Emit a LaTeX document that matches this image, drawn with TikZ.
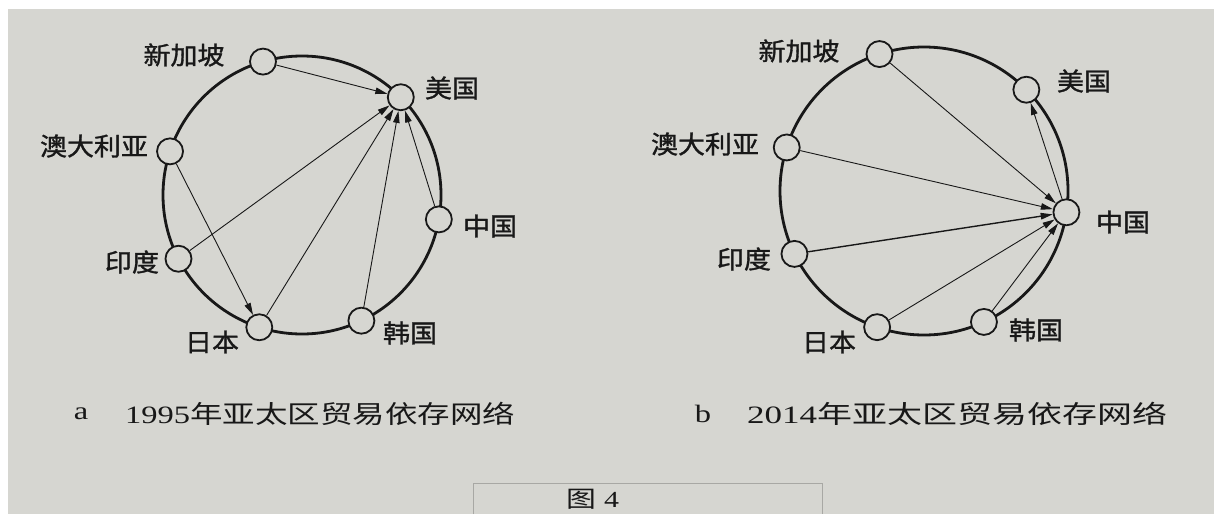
\documentclass[tikz,border=0pt]{standalone}
\usepackage{fontspec}
\setmainfont{Liberation Serif}
\newfontfamily\cjk{Noto Sans CJK SC}
\newfontfamily\cjkm{Noto Sans CJK SC}[FakeBold=1.2]
\usetikzlibrary{arrows.meta,calc}
\definecolor{paper}{RGB}{214,214,209}
\definecolor{ink}{RGB}{24,24,24}
\definecolor{faint}{RGB}{168,168,164}
\newcommand{\lab}[1]{\scalebox{1.08}[1]{\cjkm #1}}
\begin{document}
\begin{tikzpicture}[x=1pt,y=1pt,
  bigc/.style={draw=ink,line width=2.8pt},
  st/.style={circle,draw=ink,fill=paper,line width=1.8pt,minimum size=26pt,inner sep=0pt},
  arr/.style={draw=ink,line width=0.9pt,-{Triangle[length=12pt,width=6.5pt]}},
  labtxt/.style={text=ink,inner sep=0pt,font=\fontsize{25}{25}\selectfont},
  captxt/.style={text=ink,inner sep=0pt,font=\fontsize{25}{25}\selectfont}]
\useasboundingbox (0,0) rectangle (1214,-514);
\fill[white] (0,0) rectangle (1214,-514);
\fill[paper] (8,-9) rectangle (1214,-514);
% faint frame round the figure number
\draw[faint,line width=1pt] (473,-514) -- (473,-483) -- (822,-483) -- (822,-514);

% ---------- a: 1995 ----------
\coordinate (ca) at (302,-195);
\draw[bigc] (ca) circle (139);
\node[st] (a-sg) at ($(ca)+(106.3:139)$) {};
\node[st] (a-us) at ($(ca)+(44.7:139)$) {};
\node[st] (a-au) at ($(ca)+(161.7:139)$) {};
\node[st] (a-cn) at ($(ca)+(-10.1:139)$) {};
\node[st] (a-in) at ($(ca)+(207.3:139)$) {};
\node[st] (a-jp) at ($(ca)+(252.1:139)$) {};
\node[st] (a-kr) at ($(ca)+(295.3:139)$) {};
\draw[arr] (a-sg) -- (a-us);
\draw[arr] (a-in) -- (a-us);
\draw[arr] (a-jp) -- (a-us);
\draw[arr] (a-kr) -- (a-us);
\draw[arr] (a-cn) -- (a-us);
\draw[arr] (a-au) -- (a-jp);
\node[labtxt] (a-sgl) at (184,-55) {\lab{新加坡}};
\node[labtxt] (a-usl) at (452,-88) {\lab{美国}};
\node[labtxt] (a-aul) at (94,-146) {\lab{澳大利亚}};
\node[labtxt] (a-cnl) at (490,-226) {\lab{中国}};
\node[labtxt] (a-inl) at (132,-262) {\lab{印度}};
\node[labtxt] (a-jpl) at (212,-342) {\lab{日本}};
\node[labtxt] (a-krl) at (410,-333) {\lab{韩国}};

% ---------- b: 2014 ----------
\coordinate (cb) at (924,-191);
\draw[bigc] (cb) circle (144);
\node[st] (b-sg) at ($(cb)+(108:144)$) {};
\node[st] (b-us) at ($(cb)+(44.7:144)$) {};
\node[st] (b-au) at ($(cb)+(162.4:144)$) {};
\node[st] (b-cn) at ($(cb)+(-8.5:144)$) {};
\node[st] (b-in) at ($(cb)+(205.9:144)$) {};
\node[st] (b-jp) at ($(cb)+(251:144)$) {};
\node[st] (b-kr) at ($(cb)+(294.6:144)$) {};
\draw[arr] (b-sg) -- (b-cn);
\draw[arr] (b-au) -- (b-cn);
\draw[arr,line width=1.4pt] (b-in) -- (b-cn);
\draw[arr] (b-jp) -- (b-cn);
\draw[arr] (b-kr) -- (b-cn);
\draw[arr] (b-cn) -- (b-us);
\node[labtxt] (b-sgl) at (799,-51) {\lab{新加坡}};
\node[labtxt] (b-usl) at (1084,-81) {\lab{美国}};
\node[labtxt] (b-aul) at (705,-144) {\lab{澳大利亚}};
\node[labtxt] (b-cnl) at (1123,-222) {\lab{中国}};
\node[labtxt] (b-inl) at (744,-259) {\lab{印度}};
\node[labtxt] (b-jpl) at (829,-342) {\lab{日本}};
\node[labtxt] (b-krl) at (1036,-330) {\lab{韩国}};

% ---------- captions ----------
\node[captxt] (capa-l) at (81,-414) {\scalebox{1.3}[1]{a}};
\node[captxt] (capa) at (320,-414) {\scalebox{1.3}[1]{1995{\cjk 年亚太区贸易依存网络}}};
\node[captxt] (capb-l) at (703,-414) {\scalebox{1.3}[1]{b}};
\node[captxt] (capb) at (957,-414) {\scalebox{1.4}[1]{2014{\cjk 年亚太区贸易依存网络}}};
\node[captxt,font=\fontsize{23}{23}\selectfont] (fig) at (593,-499) {\scalebox{1.3}[1]{{\cjk 图} 4}};
\end{tikzpicture}
\end{document}
